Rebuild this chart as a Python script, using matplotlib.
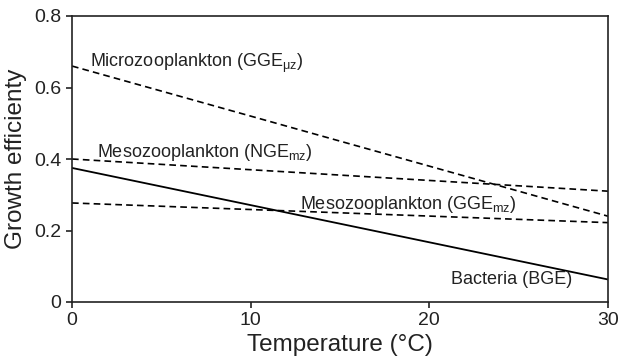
import numpy as np
import matplotlib.pyplot as plt

plt.rcParams['font.family'] = ['Liberation Sans', 'DejaVu Sans']
plt.rcParams['mathtext.fontset'] = 'custom'
plt.rcParams['mathtext.rm'] = 'Liberation Sans'
plt.rcParams['mathtext.it'] = 'Liberation Sans'

# end points of each regression line (temperature, efficiency)
temp = [0, 30]
micro_gge = [0.66, 0.24]
meso_nge = [0.40, 0.31]
meso_gge = [0.277, 0.222]
bact_bge = [0.375, 0.063]

yticks = [0, 0.2, 0.4, 0.6, 0.8]
ytick_labels = ["0", "0.2", "0.4", "0.6", "0.8"]
xticks = [0, 10, 20, 30]

fig = plt.figure(figsize=(6.18, 3.59), dpi=100)
ax = fig.add_axes([72/618, 1-302/359, 536/618, 286/359])

dash = (0, (4, 2.5))
ax.plot(temp, micro_gge, color='black', lw=1.2, linestyle=dash)
ax.plot(temp, meso_nge, color='black', lw=1.2, linestyle=dash)
ax.plot(temp, meso_gge, color='black', lw=1.2, linestyle=dash)
ax.plot(temp, bact_bge, color='black', lw=1.3)

fs = 13
ax.text(1.0, 0.668, r'Microzooplankton (GGE$_{\mathregular{μz}}$)', fontsize=fs,
        va='center', ha='left', color='#222222')
ax.text(1.4, 0.417, r'Mesozooplankton (NGE$_{\mathregular{mz}}$)', fontsize=fs,
        va='center', ha='left', color='#222222')
ax.text(12.75, 0.274, r'Mesozooplankton (GGE$_{\mathregular{mz}}$)', fontsize=fs,
        va='center', ha='left', color='#222222')
ax.text(21.2, 0.062, 'Bacteria (BGE)', fontsize=fs,
        va='center', ha='left', color='#222222')

ax.set_xlim(0, 30)
ax.set_ylim(0, 0.8)
ax.set_xticks(xticks)
ax.set_yticks(yticks)
ax.set_yticklabels(ytick_labels)
ax.tick_params(direction='out', length=4, width=1.2, labelsize=14, colors='#222222')
for s in ax.spines.values():
    s.set_linewidth(1.2)
    s.set_color('#222222')

ax.set_xlabel('Temperature (°C)', fontsize=17.5, labelpad=3, color='#222222')
ax.set_ylabel('Growth efficienty', fontsize=17.5, labelpad=5, color='#222222')

fig.savefig('out.png', dpi=100)
